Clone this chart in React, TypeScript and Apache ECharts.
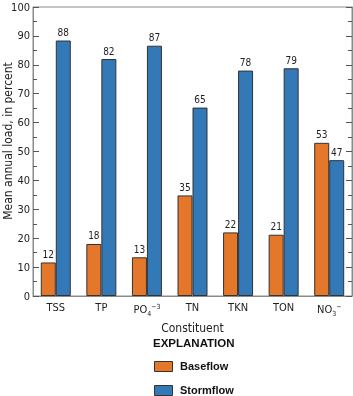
import React, { useEffect, useRef } from "react";
import * as echarts from "echarts";

const categories = ["TSS", "TP", "PO4", "TN", "TKN", "TON", "NO3"];
const baseflow = [11.6, 18, 13.4, 34.8, 22, 21.2, 53];
const stormflow = [88.4, 82, 86.6, 65.2, 78, 78.8, 47];
const seriesNames = ["Baseflow", "Stormflow"];
const seriesColors = ["#E5772A", "#3379B8"];
const FONT = "'DejaVu Sans Condensed', 'Liberation Sans', sans-serif";
const BOLD = "'Liberation Sans', sans-serif";

export default function App() {
  const ref = useRef<HTMLDivElement>(null);
  useEffect(() => {
    const chart = echarts.init(ref.current!, null, { renderer: "svg" });
    const axisColor = "#8a8a8a";
    const labelFmt = (p: any) => String(Math.round(p.value));
    const graphics: any[] = [
      {
        type: "text",
        x: 8,
        y: 141,
        rotation: Math.PI / 2,
        style: {
          text: "Mean annual load, in percent",
          font: "12px " + FONT,
          fill: "#222",
          textAlign: "center",
          textVerticalAlign: "middle",
        },
      },
    ];
    seriesNames.forEach((n, i) => {
      graphics.push({
        type: "rect",
        left: 154,
        top: 361 + i * 24,
        shape: { width: 18, height: 10 },
        style: { fill: seriesColors[i], stroke: "#333", lineWidth: 1 },
      });
      graphics.push({
        type: "text",
        left: 180,
        top: 360 + i * 24,
        style: { text: n, font: "bold 11px " + BOLD, fill: "#111" },
      });
    });
    chart.setOption({
      animation: false,
      textStyle: { fontFamily: FONT },
      grid: { left: 33, right: 1, top: 7, bottom: 100, show: true, borderColor: axisColor, borderWidth: 1 },
      title: {
        text: "EXPLANATION",
        left: 153,
        top: 337,
        padding: 0,
        textStyle: { fontFamily: BOLD, fontSize: 11.5, fontWeight: "bold", color: "#111" },
      },
      graphic: graphics,
      xAxis: {
        type: "category",
        data: categories,
        name: "Constituent",
        nameLocation: "middle",
        nameGap: 24,
        nameTextStyle: { fontFamily: FONT, fontSize: 12, color: "#222" },
        axisLine: { lineStyle: { color: axisColor } },
        axisTick: { show: false },
        axisLabel: {
          interval: 0,
          margin: 6,
          fontFamily: FONT,
          fontSize: 11,
          color: "#222",
          formatter: (v: string) => {
            if (v === "PO4") return "{b|PO}{sub|4}{sup|−3}";
            if (v === "NO3") return "{b|NO}{sub|3}{sup|−}";
            return "{b|" + v + "}";
          },
          rich: {
            b: { fontFamily: FONT, fontSize: 11, color: "#222" },
            sub: { fontFamily: FONT, fontSize: 7, color: "#222", padding: [8, 0, 0, 0] },
            sup: { fontFamily: FONT, fontSize: 7, color: "#222", padding: [0, 0, 6, 0] },
          },
        },
      },
      yAxis: [
        {
          type: "value",
          min: 0,
          max: 100,
          interval: 10,
          axisLine: { show: true, lineStyle: { color: axisColor } },
          axisTick: { show: true, inside: true, length: 6, lineStyle: { color: "#555" } },
          minorTick: { show: true, splitNumber: 2, length: 4, lineStyle: { color: "#555" } },
          splitLine: { show: false },
          axisLabel: { margin: 3, fontFamily: FONT, fontSize: 11, color: "#222" },
        },
        {
          type: "value",
          min: 0,
          max: 100,
          interval: 10,
          position: "right",
          axisLine: { show: true, lineStyle: { color: axisColor } },
          axisTick: { show: true, inside: true, length: 6, lineStyle: { color: "#555" } },
          minorTick: { show: true, splitNumber: 2, length: 4, lineStyle: { color: "#555" } },
          splitLine: { show: false },
          axisLabel: { show: false },
        },
      ],
      series: [
        {
          name: seriesNames[0],
          type: "bar",
          data: baseflow,
          barWidth: 15,
          barGap: "0%",
          itemStyle: { color: seriesColors[0], borderColor: "#333", borderWidth: 1 },
          label: { show: true, position: "top", distance: 3, formatter: labelFmt, fontFamily: FONT, fontSize: 10, color: "#222" },
        },
        {
          name: seriesNames[1],
          type: "bar",
          data: stormflow,
          barWidth: 15,
          itemStyle: { color: seriesColors[1], borderColor: "#333", borderWidth: 1 },
          label: { show: true, position: "top", distance: 3, formatter: labelFmt, fontFamily: FONT, fontSize: 10, color: "#222" },
        },
      ],
    });
    return () => chart.dispose();
  }, []);
  return <div ref={ref} style={{ position: "fixed", left: 0, top: 0, width: 353, height: 396 }} />;
}
